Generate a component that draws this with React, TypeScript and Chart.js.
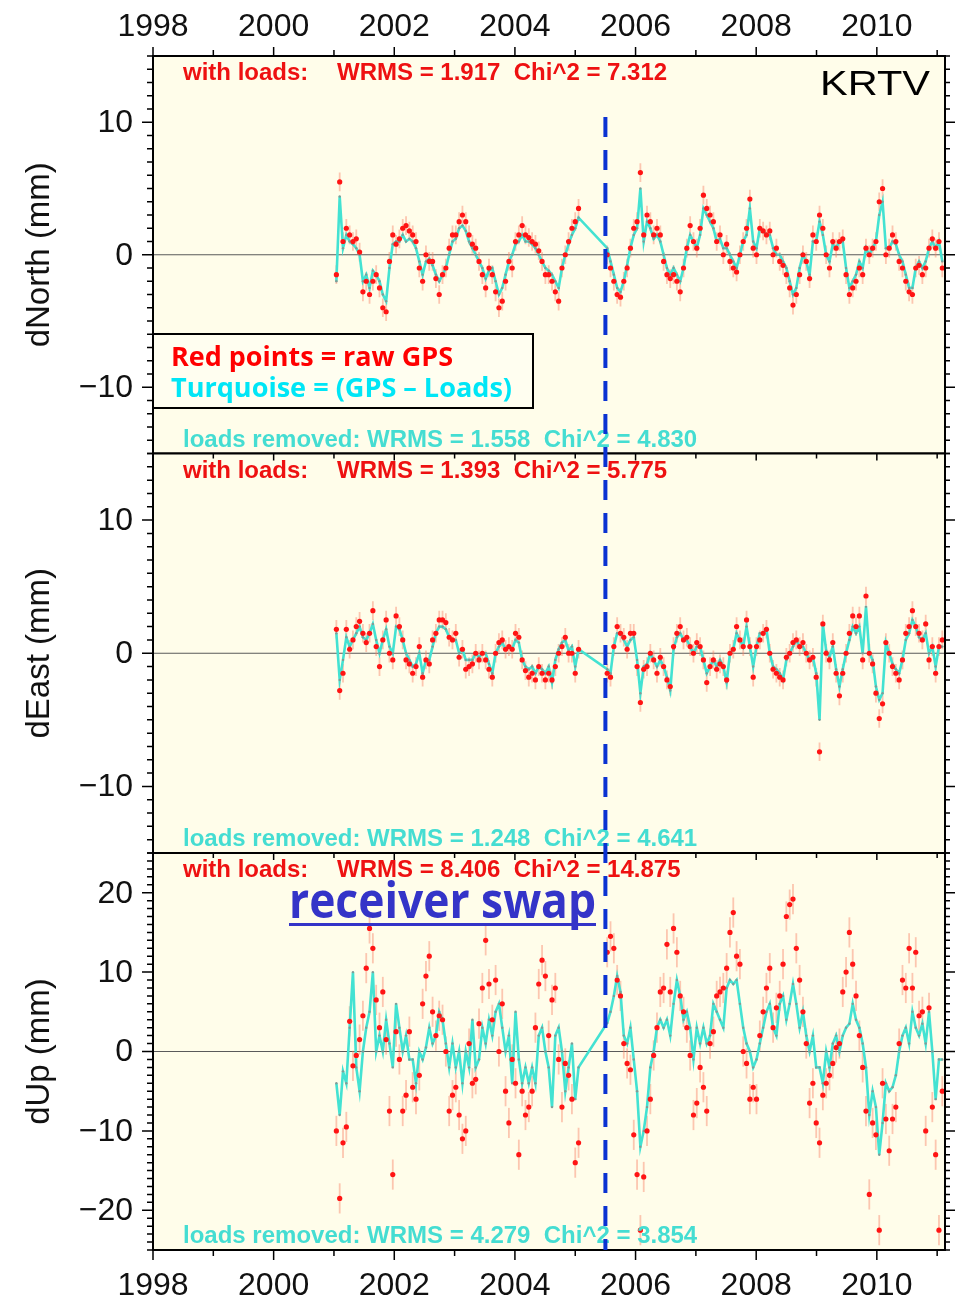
import React, { useEffect, useRef } from "react";
import { Chart, registerables } from "chart.js";

Chart.register(...registerables);

// ---------------- DATA ----------------
const years = [
  2001.040, 2001.095, 2001.150, 2001.205, 2001.260, 2001.315, 2001.370, 2001.425, 2001.480, 2001.535,
  2001.590, 2001.645, 2001.700, 2001.755, 2001.810, 2001.865, 2001.920, 2001.975, 2002.030, 2002.085,
  2002.140, 2002.195, 2002.250, 2002.305, 2002.360, 2002.415, 2002.470, 2002.525, 2002.580, 2002.635,
  2002.690, 2002.745, 2002.800, 2002.855, 2002.910, 2002.965, 2003.020, 2003.075, 2003.130, 2003.185,
  2003.240, 2003.295, 2003.350, 2003.405, 2003.460, 2003.515, 2003.570, 2003.625, 2003.680, 2003.735,
  2003.790, 2003.845, 2003.900, 2003.955, 2004.010, 2004.065, 2004.120, 2004.175, 2004.230, 2004.285,
  2004.340, 2004.395, 2004.450, 2004.505, 2004.560, 2004.615, 2004.670, 2004.725, 2004.780, 2004.835,
  2004.890, 2004.945, 2005.000, 2005.055,
  2005.530, 2005.585, 2005.640, 2005.695, 2005.750, 2005.805, 2005.860, 2005.915, 2005.970, 2006.025,
  2006.080, 2006.135, 2006.190, 2006.245, 2006.300, 2006.355, 2006.410, 2006.465, 2006.520, 2006.575,
  2006.630, 2006.685, 2006.740, 2006.795, 2006.850, 2006.905, 2006.960, 2007.015, 2007.070, 2007.125,
  2007.180, 2007.235, 2007.290, 2007.345, 2007.400, 2007.455, 2007.510, 2007.565, 2007.620, 2007.675,
  2007.730, 2007.785, 2007.840, 2007.895, 2007.950, 2008.005, 2008.060, 2008.115, 2008.170, 2008.225,
  2008.280, 2008.335, 2008.390, 2008.445, 2008.500, 2008.555, 2008.610, 2008.665, 2008.720, 2008.775,
  2008.830, 2008.885, 2008.940, 2008.995, 2009.050, 2009.105, 2009.160, 2009.215, 2009.270, 2009.325,
  2009.380, 2009.435, 2009.490, 2009.545, 2009.600, 2009.655, 2009.710, 2009.765, 2009.820, 2009.875,
  2009.930, 2009.985, 2010.040, 2010.095, 2010.150, 2010.205, 2010.260, 2010.315, 2010.370, 2010.425,
  2010.480, 2010.535, 2010.590, 2010.645, 2010.700, 2010.755, 2010.810, 2010.865, 2010.920, 2010.975,
  2011.030, 2011.085,
];

const northRaw = [
  -1.5, 5.5, 1.0, 2.0, 1.5, 1.0, 1.2, 0.2, -2.8, -2.0,
  -3.0, -2.0, -1.5, -2.5, -4.0, -4.3, -0.5, 1.5, 0.8, 1.2,
  2.0, 2.2, 1.8, 1.5, 1.0, -1.0, -2.0, 0.0, -0.5, -0.5,
  -1.8, -3.0, -1.5, -1.0, 0.5, 1.5, 1.5, 2.5, 3.0, 2.5,
  1.5, 0.8, 0.5, -0.5, -1.5, -2.5, -1.0, -1.5, -2.8, -4.0,
  -3.5, -2.0, -0.5, -1.0, 1.0, 1.5, 2.2, 1.5, 1.3, 1.0,
  0.8, 0.3, -0.5, -1.5, -1.5, -2.0, -2.8, -3.5, -1.0, 0.0,
  1.0, 2.0, 2.5, 3.5,
  0.0, -1.0, -2.0, -3.0, -3.2, -2.0, -1.0, 0.5, 2.0, 2.5,
  6.2, 1.5, 3.0, 2.5, 1.5, 2.0, 1.5, -0.5, -1.5, -1.8,
  -1.5, -2.0, -2.8, -1.0, 0.5, 2.2, 1.0, 0.5, 2.0, 4.5,
  3.5, 3.0, 2.5, 1.0, 1.5, 0.0, 0.8, -0.5, -1.0, -1.3,
  0.0, 1.0, 2.0, 4.2, 0.5, 0.0, 2.0, 1.8, 1.5, 1.8,
  0.0, 0.5, -0.5, -0.8, -1.5, -2.5, -3.8, -3.0, -1.5, 0.0,
  -0.5, -1.8, 1.5, 1.0, 3.0, 2.0, 0.0, -1.0, 1.0, 0.5,
  1.0, 1.2, -1.5, -3.0, -2.5, -2.0, -1.0, -1.5, 0.5, 0.0,
  0.5, 1.0, 4.0, 5.0, 0.0, 0.5, 1.5, 1.0, -0.5, -1.0,
  -2.0, -2.8, -3.0, -1.0, -0.8, -1.5, -1.0, 0.5, 1.2, 0.5,
  1.0, -1.0,
];

const northNoLoads = [
  -2.0, 4.4, 0.5, 1.5, 1.0, 0.8, 0.5, 0.0, -2.0, -1.5,
  -2.5, -1.2, -1.5, -2.0, -3.0, -3.5, -1.0, 0.8, 1.0, 1.0,
  1.5, 1.0, 1.2, 1.0, 0.5, -0.5, -1.5, -0.5, -0.3, -0.8,
  -1.5, -2.0, -1.5, -1.0, 0.0, 1.0, 1.2, 2.0, 2.2, 1.8,
  1.0, 0.5, 0.0, -0.5, -1.0, -1.8, -1.2, -1.0, -2.0, -3.0,
  -2.5, -1.5, -0.5, 0.0, 0.8, 1.0, 1.5, 1.0, 1.0, 0.8,
  0.5, 0.0, -0.5, -1.0, -1.2, -1.5, -2.0, -2.5, -1.0, 0.0,
  0.8, 1.5, 2.0, 2.8,
  0.5, -0.5, -1.5, -2.5, -2.8, -2.0, -0.8, 0.5, 1.5, 2.0,
  5.0, 1.0, 2.5, 2.0, 1.2, 1.5, 1.0, 0.0, -1.0, -1.5,
  -1.0, -1.5, -2.0, -1.0, 0.5, 1.5, 1.0, 0.5, 1.5, 3.5,
  3.0, 2.5, 2.0, 1.0, 1.2, 0.5, 0.5, 0.0, -0.5, -1.0,
  0.0, 1.0, 1.5, 3.5, 1.0, 0.5, 2.0, 1.8, 1.5, 1.5,
  0.5, 0.0, 0.0, -0.5, -1.0, -2.0, -3.0, -2.5, -1.0, 0.0,
  -0.5, -1.5, 1.0, 1.0, 2.5, 1.5, 0.0, -0.5, 0.8, 0.5,
  1.0, 1.0, -1.0, -2.5, -2.0, -1.5, -0.5, -1.0, 0.5, 0.0,
  0.5, 1.0, 3.0, 4.0, 0.5, 0.5, 1.0, 0.8, 0.0, -0.5,
  -1.5, -2.5, -2.5, -1.0, -0.5, -1.0, -0.5, 0.5, 1.0, 0.5,
  1.0, -0.5,
];

const eastRaw = [
  1.8, -2.8, -1.5, 1.8, 0.3, 1.0, 2.0, 2.4, 1.5, 0.8,
  1.5, 3.2, 0.5, -1.0, 1.0, 2.5, 0.0, -0.5, 2.8, 2.0,
  1.0, -0.5, -0.8, -1.5, -1.0, 0.5, -1.8, -0.5, -0.8, 1.0,
  1.5, 2.5, 2.5, 2.3, 1.2, 1.0, 1.5, -0.3, 0.3, -1.2,
  -1.0, -0.8, 0.0, -0.5, 0.0, -0.5, -1.2, -1.8, 0.0, 0.8,
  1.0, 0.3, 0.5, 0.3, 1.5, 1.2, -0.5, -1.3, -1.8, -1.5,
  -2.0, -1.0, -1.5, -2.0, -1.5, -2.0, -1.0, 0.0, 0.5, 1.2,
  0.0, 0.0, -1.5, 0.3,
  -1.5, -1.8, 0.5, 2.0, 1.5, 1.2, 0.3, 1.5, 1.5, -1.0,
  -3.7, -1.2, -1.0, 0.0, -0.5, -1.5, -0.3, -1.0, -2.0, -2.5,
  0.5, 1.5, 2.0, 1.0, 1.2, 0.5, 0.0, 0.8, 0.5, -0.5,
  -2.2, -1.0, -0.5, -1.2, -0.8, -1.0, -2.0, 0.0, 0.3, 2.0,
  1.0, 0.5, 2.5, 0.5, -1.8, 0.5, 1.0, 1.5, 1.8, 0.0,
  -1.2, -1.5, -1.8, -2.0, -0.3, 0.0, 0.8, 1.0, 0.5, 0.8,
  0.0, -0.5, -0.3, -1.8, -7.4, 2.2, 0.0, -0.5, 0.8, -1.5,
  -3.2, -1.5, 0.0, 1.5, 2.8, 2.0, 2.8, -0.5, 4.3, 0.0,
  -0.8, -3.0, -4.9, -3.8, 0.8, 0.0, -1.0, -1.5, -2.0, -0.5,
  1.5, 2.0, 3.2, 2.0, 1.5, 1.0, 2.2, -0.5, 0.5, -1.5,
  0.5, 1.0,
];

const eastNoLoads = [
  1.5, -2.0, -0.5, 1.2, 0.5, 1.0, 1.5, 2.0, 1.2, 1.0,
  1.5, 2.2, 1.0, 0.0, 1.0, 1.8, 0.5, 0.0, 2.0, 1.8,
  1.0, 0.0, -0.5, -1.0, -0.8, 0.0, -1.5, -0.5, -0.5, 0.5,
  1.5, 2.0, 2.0, 1.8, 1.2, 1.0, 1.0, 0.0, 0.3, -0.5,
  -0.5, -0.5, 0.0, -0.3, 0.0, 0.0, -0.8, -1.5, 0.0, 0.5,
  0.8, 0.3, 0.5, 0.3, 1.0, 0.8, -0.5, -1.0, -1.2, -1.0,
  -1.5, -1.0, -1.2, -1.5, -1.0, -2.2, -0.5, 0.3, 0.8, 1.0,
  0.2, 0.5, -1.0, 0.3,
  -1.2, -1.5, 0.5, 1.5, 1.5, 1.0, 0.5, 1.0, 1.2, -0.5,
  -3.0, -1.0, -0.8, 0.0, -0.5, -1.0, -0.5, -1.0, -1.8, -2.8,
  0.3, 1.2, 1.5, 1.0, 1.0, 0.5, 0.0, 0.5, 0.5, -0.5,
  -1.5, -1.0, -0.5, -1.0, -0.5, -1.0, -2.2, 0.0, 0.3, 1.5,
  1.0, 0.5, 2.0, 0.5, -1.0, 0.5, 1.5, 1.5, 1.8, 0.0,
  -1.0, -1.2, -1.5, -2.0, -0.5, 0.0, 0.5, 1.0, 0.5, 0.5,
  0.0, -0.5, -0.3, -1.5, -5.0, 2.2, 0.2, -0.3, 0.5, -1.2,
  -2.5, -1.2, 0.0, 1.0, 2.0, 1.5, 2.0, 0.0, 3.5, 0.0,
  -0.5, -2.5, -3.5, -3.0, 0.8, 0.0, -0.8, -1.2, -1.5, -0.5,
  1.0, 1.5, 2.5, 2.0, 1.2, 1.0, 1.5, 0.0, 0.5, -1.0,
  0.5, 0.5,
];

const upRaw = [
  -10, -18.5, -11.5, -9.5, 3.8, -1.8, -0.5, 1.5, 4.5, 10.5,
  15.5, 13, 6.5, 3, 7.5, 1.5, -7.5, -15.5, 2.5, -1,
  -7.5, -5.5, 2.5, -4.5, -6, -3, 6, 9.5, 12, 5,
  2, 4.5, 4, 0, -7.5, -5.5, -4.5, -8, -11, -10,
  1, -4, -3.5, 3.5, 8, 14, 8.5, 4, 9, 0,
  6, -5, -9, -1, -4, -13, -5, -8, -7, -5,
  3, 8.5, 11.5, 9.5, 2, 6.5, 8, -1, -7, -1.5,
  -3, -6, -14, -11.5,
  12.5, 14.5, 13, 9, 7, 1, -1.5, -2.3, -10.5, -15.5,
  -22.5, -15.8, -10, -6, -0.5, 3, 7.5, 8, 13.5, 7.5,
  15.5, 12.5, 7, 5, 3, -0.5, -8, -6.5, -2, -4.5,
  -7.5, 1, 2.5, 7, 7.5, 8, 10.5, 15, 17.5, 12,
  11, 0, -1.5, -6, -4.5, -6, 2, 5, 8, 10.5,
  3, 5.5, 7, 11, 17, 18.5, 19.2, 13, 9, 5,
  1, -6.5, -4, -9, -11.5, -5.5, -4, -3, -1.5, 0.5,
  1, 7.5, 10, 15, 11, 7, 2, -2, -7.5, -18,
  -9, -10.5, -22.5, -4, -8.5, -12.5, -8.5, -7, 1, 9,
  8, 13, 8, 12.5, 4.5, 5, -10, 5.5, -7, -13,
  -22.5, -5,
];

const upNoLoads = [
  -4, -8, -2.5, -4, 3, 10, -2, -5, 0, 3,
  5, 10, 0, 2, 0, 4, 1, -2, 6, 3,
  0, 2, -1, -1, -4, 0, -1, 0.5, 3, 1,
  2, 5, 4, 1, -2, 1, -2, 0, -4, 0,
  -2, 4, -2, -1, 3, 1, 4, 2, 5, 6,
  3, 0, 2, -4, 5, -1, -4, -2, -4, -2,
  -4, 2, 3, 0, -2, -7, 2, 3, 0, -5,
  -2, 1, -6, -2,
  3.6, 5, 7, 9.5, 7.5, 2, 1, 3, -1, -5,
  -12, -10, -7, -2, 0, 3, 4, 3, 4, 2,
  6, 9, 7, 4, 5, 3, -1, 3, 1, 3,
  1, 2, 6, 5, 4, 3, 8, 9, 8.5, 9,
  6, 3, 1, 0, -2, -1, 1, 3, 5, 6,
  3, 2, 6, 7, 4, 6, 8.5, 6, 3, 5,
  2, 0, 2, -2, -2, -4, 0, -2, 1, 2,
  0, 2, 3, 3.5, 6, 4, 3, 1, -2, -8,
  -5, -7, -13, -9, -4, -5, -4.5, -3, 0, 2,
  3, 1, 5, 3, 2, 3.5, 1, 5, 0, -6,
  -1, -1,
];

// formal uncertainties (mm), one per component
const northSigma = 0.7;
const eastSigma = 0.7;
const upSigma = 1.9;

const labeledYears = [1998, 2000, 2002, 2004, 2006, 2008, 2010];
const minorYears = [1999, 2001, 2003, 2005, 2007, 2009, 2011];
const neTicks = [-10, 0, 10];
const upTicks = [-20, -10, 0, 10, 20];
const receiverSwapYear = 2005.5;

const northStats = { withLoads: "WRMS = 1.917  Chi^2 = 7.312", removed: "loads removed: WRMS = 1.558  Chi^2 = 4.830" };
const eastStats = { withLoads: "WRMS = 1.393  Chi^2 = 5.775", removed: "loads removed: WRMS = 1.248  Chi^2 = 4.641" };
const upStats = { withLoads: "WRMS = 8.406  Chi^2 = 14.875", removed: "loads removed: WRMS = 4.279  Chi^2 = 3.854" };

// ---------------- LAYOUT / STYLE ----------------
const W = 957;
const H = 1298;
const PLOT_L = 153;
const PLOT_R = 945;
const X_MIN = 1998;
const X_MAX = 2011.13;
const BG = "#fffdea";
const RED = "#ff1414";
const RED_TEXT = "#ee1111";
const CYAN_LINE = "#43e2d2";
const CYAN_TEXT = "#45ddd2";
const SANS = '"Liberation Sans", Arial, sans-serif';

type PanelCfg = {
  index: number;
  top: number;
  bottom: number;
  min: number;
  max: number;
  ticks: number[];
  title: string;
  raw: number[];
  noLoads: number[];
  sigma: number;
  stats: { withLoads: string; removed: string };
};

const panels: PanelCfg[] = [
  { index: 0, top: 56, bottom: 453.5, min: -15, max: 15, ticks: neTicks, title: "dNorth (mm)", raw: northRaw, noLoads: northNoLoads, sigma: northSigma, stats: northStats },
  { index: 1, top: 453.5, bottom: 853, min: -15, max: 15, ticks: neTicks, title: "dEast (mm)", raw: eastRaw, noLoads: eastNoLoads, sigma: eastSigma, stats: eastStats },
  { index: 2, top: 853, bottom: 1250, min: -25, max: 25, ticks: upTicks, title: "dUp (mm)", raw: upRaw, noLoads: upNoLoads, sigma: upSigma, stats: upStats },
];

function drawText(
  ctx: CanvasRenderingContext2D,
  text: string,
  x: number,
  y: number,
  font: string,
  color: string,
  width?: number,
  align: CanvasTextAlign = "left"
) {
  ctx.save();
  ctx.font = font;
  ctx.fillStyle = color;
  ctx.textBaseline = "alphabetic";
  ctx.textAlign = align;
  const m = ctx.measureText(text).width;
  const sx = width ? width / m : 1;
  ctx.translate(x, y);
  ctx.scale(sx, 1);
  ctx.fillText(text, 0, 0);
  ctx.restore();
}

function fmt(v: number) {
  return v < 0 ? "\u2212" + Math.abs(v) : String(v);
}

function makePlugin(p: PanelCfg) {
  return {
    id: "panelDecor" + p.index,
    beforeDraw(chart: any) {
      const { ctx, chartArea: a } = chart;
      ctx.save();
      ctx.fillStyle = BG;
      ctx.fillRect(a.left, a.top, a.right - a.left, a.bottom - a.top);
      ctx.restore();
    },
    beforeDatasetsDraw(chart: any) {
      const { ctx, chartArea: a } = chart;
      const xs = chart.scales.x;
      const ys = chart.scales.y;
      ctx.save();
      ctx.beginPath();
      ctx.rect(a.left, a.top, a.right - a.left, a.bottom - a.top);
      ctx.clip();
      // zero line
      const y0 = ys.getPixelForValue(0);
      ctx.strokeStyle = "#5a5a5a";
      ctx.lineWidth = 1.2;
      ctx.beginPath();
      ctx.moveTo(a.left, y0);
      ctx.lineTo(a.right, y0);
      ctx.stroke();
      // error bars
      ctx.strokeStyle = "rgba(248,130,105,0.45)";
      ctx.lineWidth = 1.8;
      const n = Math.min(years.length, p.raw.length);
      for (let i = 0; i < n; i++) {
        const px = xs.getPixelForValue(years[i]);
        ctx.beginPath();
        ctx.moveTo(px, ys.getPixelForValue(p.raw[i] + p.sigma));
        ctx.lineTo(px, ys.getPixelForValue(p.raw[i] - p.sigma));
        ctx.stroke();
      }
      ctx.restore();
    },
    afterDatasetsDraw(chart: any) {
      const { ctx, chartArea: a } = chart;
      const xs = chart.scales.x;
      const ys = chart.scales.y;
      ctx.save();
      ctx.strokeStyle = "#000";
      ctx.lineWidth = 1.5;
      // y ticks, every 1 mm, major at labels
      for (let v = p.min; v <= p.max; v += 1) {
        const y = ys.getPixelForValue(v);
        const major = p.ticks.includes(v);
        ctx.beginPath();
        ctx.moveTo(a.left, y);
        ctx.lineTo(a.left - (major ? 11 : 6), y);
        ctx.moveTo(a.right, y);
        ctx.lineTo(a.right + (major ? 10 : 5), y);
        ctx.stroke();
      }
      // x ticks
      const allYears = [...labeledYears, ...minorYears];
      for (const yr of allYears) {
        const x = xs.getPixelForValue(yr);
        const even = labeledYears.includes(yr);
        ctx.beginPath();
        if (p.index === 0) {
          ctx.moveTo(x, a.top);
          ctx.lineTo(x, a.top - (even ? 9 : 6));
        } else {
          ctx.moveTo(x, a.top);
          ctx.lineTo(x, a.top + (even ? 7 : 5));
        }
        if (p.index === 2) {
          ctx.moveTo(x, a.bottom);
          ctx.lineTo(x, a.bottom + (even ? 10 : 6));
        }
        ctx.stroke();
      }
      // frame
      ctx.lineWidth = 2;
      ctx.strokeRect(a.left, a.top, a.right - a.left, a.bottom - a.top);
      ctx.restore();

      // y tick labels
      ctx.save();
      ctx.font = "32px " + SANS;
      ctx.fillStyle = "#111";
      ctx.textAlign = "right";
      ctx.textBaseline = "middle";
      for (const v of p.ticks) {
        ctx.fillText(fmt(v), a.left - 20, ys.getPixelForValue(v) + 1);
      }
      // x tick labels
      ctx.textAlign = "center";
      ctx.textBaseline = "alphabetic";
      for (const yr of labeledYears) {
        const x = xs.getPixelForValue(yr);
        if (p.index === 0) ctx.fillText(String(yr), x, 36);
        if (p.index === 2) ctx.fillText(String(yr), x, 1295);
      }
      ctx.restore();

      // axis title
      ctx.save();
      ctx.font = "33px " + SANS;
      ctx.fillStyle = "#111";
      ctx.textAlign = "center";
      ctx.textBaseline = "alphabetic";
      ctx.translate(49, (a.top + a.bottom) / 2);
      ctx.rotate(-Math.PI / 2);
      ctx.fillText(p.title, 0, 0);
      ctx.restore();

      // stats text
      const statFont = "bold 24px " + SANS;
      drawText(ctx, "with loads:", 183, a.top + 24, statFont, RED_TEXT);
      drawText(ctx, p.stats.withLoads, 337, a.top + 24, statFont, RED_TEXT);
      drawText(ctx, p.stats.removed, 183, a.bottom - 7, statFont, CYAN_TEXT);

      if (p.index === 0) {
        // station name
        drawText(ctx, "KRTV", 820, 95, "35px " + SANS, "#000", 110);
        // legend box
        ctx.save();
        ctx.fillStyle = "#fffef0";
        ctx.fillRect(153, 334, 380, 74);
        ctx.strokeStyle = "#000";
        ctx.lineWidth = 2;
        ctx.strokeRect(153, 334, 380, 74);
        ctx.restore();
        drawText(ctx, "Red points = raw GPS", 171, 366, 'bold 26px "Open Sans", sans-serif', "#ff0000", 282);
        drawText(ctx, "Turquoise = (GPS \u2013 Loads)", 171, 397, 'bold 26px "Open Sans", sans-serif', "#00e6f6", 341);
      }
      if (p.index === 2) {
        drawText(ctx, "receiver swap", 289, 918, 'bold 50px "Open Sans", sans-serif', "#3434c8", 307);
        ctx.save();
        ctx.fillStyle = "#3434c8";
        ctx.fillRect(289, 923, 307, 3);
        ctx.restore();
      }
    },
    afterDraw(chart: any) {
      if (p.index !== 2) return;
      const { ctx } = chart;
      const x = chart.scales.x.getPixelForValue(receiverSwapYear);
      ctx.save();
      ctx.strokeStyle = "#0a32d2";
      ctx.lineWidth = 4;
      ctx.setLineDash([20, 13]);
      ctx.beginPath();
      ctx.moveTo(x, 117);
      ctx.lineTo(x, 1250);
      ctx.stroke();
      ctx.restore();
    },
  };
}

function Panel({ cfg }: { cfg: PanelCfg }) {
  const ref = useRef<HTMLCanvasElement | null>(null);
  useEffect(() => {
    if (!ref.current) return;
    const n = Math.min(years.length, cfg.raw.length, cfg.noLoads.length);
    const rawPts = [];
    const cleanPts = [];
    for (let i = 0; i < n; i++) {
      rawPts.push({ x: years[i], y: cfg.raw[i] });
      cleanPts.push({ x: years[i], y: cfg.noLoads[i] });
    }
    const chart = new Chart(ref.current, {
      type: "scatter",
      data: {
        datasets: [
          {
            type: "scatter",
            label: "raw GPS",
            data: rawPts,
            pointRadius: 2.6,
            pointBackgroundColor: RED,
            pointBorderWidth: 0,
            showLine: false,
          } as any,
          {
            type: "line",
            label: "GPS - Loads",
            data: cleanPts,
            borderColor: CYAN_LINE,
            borderWidth: 2.6,
            pointRadius: 1.2,
            pointBackgroundColor: "#7f9c97",
            pointBorderWidth: 0,
            tension: 0,
            fill: false,
          } as any,
        ],
      },
      options: {
        responsive: false,
        animation: false,
        devicePixelRatio: 1,
        events: [],
        layout: {
          padding: { left: PLOT_L, right: W - PLOT_R, top: cfg.top, bottom: H - cfg.bottom },
        },
        plugins: { legend: { display: false }, tooltip: { enabled: false } },
        scales: {
          x: { type: "linear", min: X_MIN, max: X_MAX, display: false },
          y: { type: "linear", min: cfg.min, max: cfg.max, display: false },
        },
      },
      plugins: [makePlugin(cfg)],
    });
    return () => chart.destroy();
  }, [cfg]);
  return (
    <canvas
      ref={ref}
      width={W}
      height={H}
      style={{ position: "absolute", left: 0, top: 0, width: W, height: H }}
    />
  );
}

export default function App() {
  return (
    <div style={{ position: "absolute", left: 0, top: 0, width: W, height: H, background: "#fff", overflow: "hidden" }}>
      {panels.map((p) => (
        <Panel key={p.index} cfg={p} />
      ))}
    </div>
  );
}
